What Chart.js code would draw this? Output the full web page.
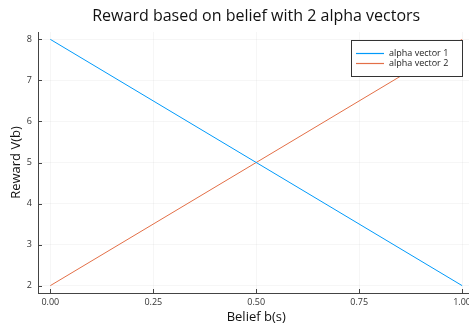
<!DOCTYPE html>
<html>
<head>
<meta charset="utf-8">
<script src="https://cdn.jsdelivr.net/npm/chart.js@4/dist/chart.umd.min.js"></script>
<style>
  html, body { margin: 0; padding: 0; background: #fff; overflow: hidden; }
  #wrap { width: 475px; height: 325px; }
</style>
</head>
<body>
<div id="wrap"><canvas id="rewardChart" width="475" height="325"></canvas></div>
<script>
const belief = [0, 1];
const alpha1 = [8, 2];
const alpha2 = [2, 8];
const seriesNames = ['alpha vector 1', 'alpha vector 2'];
const seriesColors = ['#009AFA', '#E36F47'];
const xTicks = [0, 0.25, 0.5, 0.75, 1];
const yTicks = [2, 3, 4, 5, 6, 7, 8];

const FONT = '"Open Sans", "DejaVu Sans", sans-serif';

function toPoints(xs, ys) {
    return xs.map((x, i) => ({ x: x, y: ys[i] }));
}

// title over the plot area, inward tick marks and a boxed legend, like the GR backend
const plotDecor = {
    id: 'plotDecor',
    afterDraw(chart) {
        const ctx = chart.ctx;
        const area = chart.chartArea;
        const xs = chart.scales.x, ys = chart.scales.y;
        ctx.save();
        ctx.fillStyle = '#111';
        ctx.font = '16px ' + FONT;
        ctx.textAlign = 'center';
        ctx.textBaseline = 'middle';
        ctx.fillText('Reward based on belief with 2 alpha vectors', (area.left + area.right) / 2, 16);

        ctx.strokeStyle = '#444';
        ctx.lineWidth = 1;
        ctx.beginPath();
        xTicks.forEach(v => {
            const px = Math.round(xs.getPixelForValue(v)) + 0.5;
            ctx.moveTo(px, area.bottom);
            ctx.lineTo(px, area.bottom - 4);
        });
        yTicks.forEach(v => {
            const py = Math.round(ys.getPixelForValue(v)) + 0.5;
            ctx.moveTo(area.left, py);
            ctx.lineTo(area.left + 4, py);
        });
        ctx.stroke();

        const boxW = 111, boxH = 36;
        const bx = Math.round(area.right) - 12 - boxW, by = Math.round(area.top) + 8;
        ctx.fillStyle = '#fff';
        ctx.fillRect(bx, by, boxW, boxH);
        ctx.strokeStyle = '#333';
        ctx.strokeRect(bx + 0.5, by + 0.5, boxW, boxH);
        ctx.font = '9px ' + FONT;
        ctx.textAlign = 'left';
        ctx.lineWidth = 1.2;
        seriesNames.forEach((name, i) => {
            const ly = by + 13 + i * 10;
            ctx.strokeStyle = seriesColors[i];
            ctx.beginPath();
            ctx.moveTo(bx + 5, ly + 0.5);
            ctx.lineTo(bx + 33, ly + 0.5);
            ctx.stroke();
            ctx.fillStyle = '#222';
            ctx.fillText(name, bx + 38, ly);
        });
        ctx.restore();
    }
};

const ctx = document.getElementById('rewardChart').getContext('2d');
new Chart(ctx, {
    type: 'scatter',
    data: {
        datasets: [
            { label: seriesNames[0], data: toPoints(belief, alpha1), borderColor: seriesColors[0], backgroundColor: seriesColors[0] },
            { label: seriesNames[1], data: toPoints(belief, alpha2), borderColor: seriesColors[1], backgroundColor: seriesColors[1] }
        ].map(d => Object.assign(d, { showLine: true, borderWidth: 1, pointRadius: 0, fill: false }))
    },
    options: {
        responsive: false,
        animation: false,
        layout: { padding: { top: 32, left: 0, right: 0, bottom: 0 } },
        plugins: {
            legend: { display: false },
            title: { display: false },
            tooltip: { enabled: false }
        },
        scales: {
            x: {
                type: 'linear',
                min: -0.03,
                max: 1.03,
                afterBuildTicks: s => { s.ticks = xTicks.map(v => ({ value: v })); },
                afterFit: s => { s.height = 32; },
                ticks: {
                    color: '#333',
                    font: { family: FONT, size: 9 },
                    padding: 4,
                    maxRotation: 0,
                    autoSkip: false,
                    callback: v => v.toFixed(2)
                },
                grid: { color: 'rgba(0,0,0,0.07)', lineWidth: 0.5, drawTicks: false },
                border: { color: '#444', width: 1 },
                title: { display: true, text: 'Belief b(s)', color: '#111', font: { family: FONT, size: 13 }, padding: { top: 0, bottom: 0 } }
            },
            y: {
                type: 'linear',
                min: 1.82,
                max: 8.18,
                afterBuildTicks: s => { s.ticks = yTicks.map(v => ({ value: v })); },
                afterFit: s => { s.width = 38; },
                ticks: {
                    color: '#333',
                    font: { family: FONT, size: 9 },
                    padding: 6,
                    autoSkip: false
                },
                grid: { color: 'rgba(0,0,0,0.07)', lineWidth: 0.5, drawTicks: false },
                border: { color: '#444', width: 1 },
                title: { display: true, text: 'Reward V(b)', color: '#111', font: { family: FONT, size: 13 }, padding: { top: 8, bottom: 0 } }
            }
        }
    },
    plugins: [plotDecor]
});
</script>
</body>
</html>
